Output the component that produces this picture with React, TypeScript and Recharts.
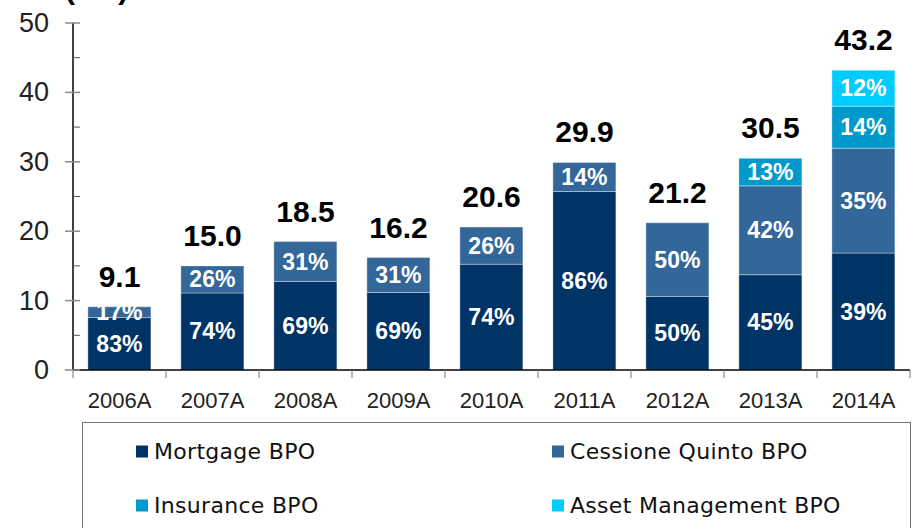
import React from 'react';
import { ComposedChart, Bar, XAxis, YAxis, Scatter, LabelList } from 'recharts';

const years = ['2006A', '2007A', '2008A', '2009A', '2010A', '2011A', '2012A', '2013A', '2014A'];
const totals = [9.1, 15.0, 18.5, 16.2, 20.6, 29.9, 21.2, 30.5, 43.2];
const mortgagePct = [83, 74, 69, 69, 74, 86, 50, 45, 39];
const cessionePct = [17, 26, 31, 31, 26, 14, 50, 42, 35];
const insurancePct = [0, 0, 0, 0, 0, 0, 0, 13, 14];
const assetPct = [0, 0, 0, 0, 0, 0, 0, 0, 12];
const seriesKeys = ['mortgage', 'cessione', 'insurance', 'asset'];
const seriesNames = ['Mortgage BPO', 'Cessione Quinto BPO', 'Insurance BPO', 'Asset Management BPO'];
const seriesColors = ['#003366', '#336699', '#0099CC', '#00CCFF'];
const yTicks = [0, 5, 10, 15, 20, 25, 30, 35, 40, 45, 50];
const unitLabel = '(€m)';

const pctArrays = [mortgagePct, cessionePct, insurancePct, assetPct];

const data = years.map((year, i) => {
  const row: any = { year, total: totals[i] };
  seriesKeys.forEach((k, s) => {
    row[k] = (totals[i] * pctArrays[s][i]) / 100;
    row[k + 'Pct'] = pctArrays[s][i];
  });
  return row;
});

const FONT = '"Liberation Sans", Arial, sans-serif';
const WIDE_FONT = '"DejaVu Sans", "Liberation Sans", sans-serif';
const W = 913;
const H = 528;
const AXIS_X = 73;
const RIGHT = 3;
const BAND = (W - AXIS_X - RIGHT) / years.length;

const renderPct = (props: any) => {
  const { x, y, width, height, value } = props;
  if (!value) return null;
  return (
    <text
      x={Number(x) + Number(width) / 2}
      y={Number(y) + Number(height) / 2}
      textAnchor="middle"
      dominantBaseline="central"
      fill="#ffffff"
      fontFamily={FONT}
      fontWeight="bold"
      fontSize={23}
    >
      {value}%
    </text>
  );
};

const YTick = (props: any) => {
  const { y, payload } = props;
  const v = payload.value;
  if (v % 10 === 0) {
    return (
      <g>
        <line x1={AXIS_X - 8} x2={AXIS_X + 7} y1={y} y2={y} stroke="#8a8a8a" strokeWidth={1.5} />
        <text x={AXIS_X - 24} y={y} textAnchor="end" dominantBaseline="central" fill="#222" fontFamily={FONT} fontSize={27}>
          {v}
        </text>
      </g>
    );
  }
  return <line x1={AXIS_X} x2={AXIS_X + 7} y1={y} y2={y} stroke="#555" strokeWidth={1} />;
};

const XTick = (props: any) => {
  const { x, payload, index } = props;
  const axisY = 370;
  return (
    <g>
      <line x1={x - BAND / 2} x2={x - BAND / 2} y1={axisY} y2={axisY + 8} stroke="#777" strokeWidth={1} />
      {index === years.length - 1 && (
        <line x1={x + BAND / 2} x2={x + BAND / 2} y1={axisY} y2={axisY + 8} stroke="#777" strokeWidth={1} />
      )}
      <text x={x} y={axisY + 38} textAnchor="middle" fill="#222" fontFamily={FONT} fontSize={22}>
        {payload.value}
      </text>
    </g>
  );
};

const TotalShape = (props: any) => {
  const { cx, cy, payload } = props;
  return (
    <text x={cx} y={cy - 20} textAnchor="middle" fill="#000" fontFamily={FONT} fontWeight="bold" fontSize={30}>
      {payload.total.toFixed(1)}
    </text>
  );
};

export default function App() {
  return (
    <div style={{ position: 'absolute', left: 0, top: 0, width: W, height: H, overflow: 'hidden', fontFamily: FONT }}>
      <ComposedChart
        width={W}
        height={H}
        data={data}
        margin={{ top: 23, right: RIGHT, left: 0, bottom: 128 }}
        barCategoryGap="16%"
      >
        <text x={65} y={-1} fill="#000" fontFamily={FONT} fontWeight="bold" fontSize={30}>
          {unitLabel}
        </text>
        <XAxis
          dataKey="year"
          height={30}
          axisLine={{ stroke: '#000', strokeWidth: 1.5 }}
          tickLine={false}
          tick={<XTick />}
          interval={0}
        />
        <YAxis
          width={AXIS_X}
          domain={[0, 50]}
          ticks={yTicks}
          interval={0}
          axisLine={{ stroke: '#000', strokeWidth: 1.5 }}
          tickLine={false}
          tick={<YTick />}
        />
        {seriesKeys.map((k, s) => (
          <Bar
            key={k}
            dataKey={k}
            name={seriesNames[s]}
            stackId="a"
            fill={seriesColors[s]}
            stroke="rgba(255,255,255,0.35)"
            strokeWidth={1}
            isAnimationActive={false}
          >
            <LabelList dataKey={k + 'Pct'} content={renderPct} />
          </Bar>
        ))}
        <Scatter dataKey="total" shape={<TotalShape />} isAnimationActive={false} />
      </ComposedChart>
      <div
        style={{
          position: 'absolute',
          left: 82,
          top: 422,
          width: 829,
          height: 130,
          border: '1.5px solid #777',
          boxSizing: 'border-box',
        }}
      >
        {seriesNames.map((name, s) => (
          <div
            key={name}
            style={{
              position: 'absolute',
              left: s % 2 === 0 ? 53 : 469,
              top: s < 2 ? 28 : 82,
              transform: 'translateY(-50%)',
              display: 'flex',
              alignItems: 'center',
              whiteSpace: 'nowrap',
            }}
          >
            <span style={{ display: 'inline-block', width: 12, height: 12, background: seriesColors[s], marginRight: 6 }} />
            <span style={{ fontSize: 22, color: '#111', fontFamily: WIDE_FONT, letterSpacing: 0.3 }}>{name}</span>
          </div>
        ))}
      </div>
    </div>
  );
}
